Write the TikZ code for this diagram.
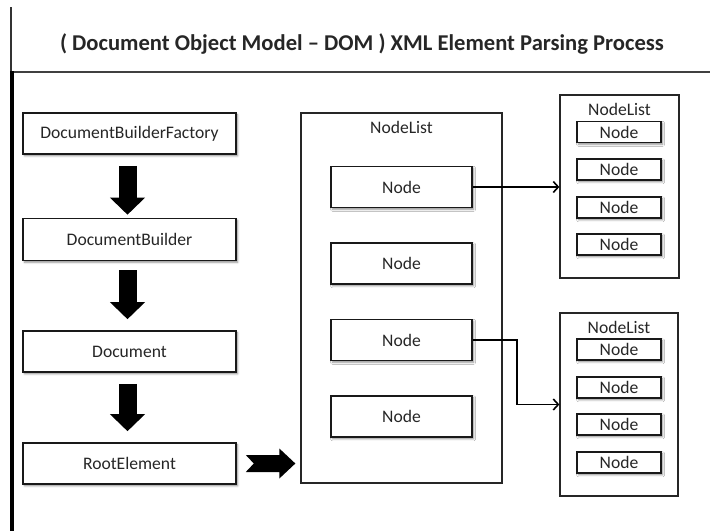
\documentclass[tikz,border=0pt]{standalone}
\usepackage{fontspec}
\setmainfont{Carlito}
\usetikzlibrary{arrows.meta,calc,shadows.blur}

\begin{document}
\begin{tikzpicture}[x=1pt,y=-1pt,
  font=\fontsize{17.6}{20}\selectfont,
  box/.style={draw=black!90, line width=1.6pt, fill=white, text=black!85, inner sep=0pt,
    blur shadow={shadow xshift=1.6pt, shadow yshift=-1.8pt, shadow blur radius=2pt, shadow opacity=45}},
  stagebox/.style={box, minimum width=213pt, minimum height=41pt},
  itembox/.style={box, minimum width=141pt, minimum height=41pt},
  smallbox/.style={box, minimum width=84pt, minimum height=21pt, line width=1.4pt},
  listbox/.style={draw=black!85, line width=1.3pt, fill=white, inner sep=0pt},
  listlabel/.style={anchor=base, text=black!85},
  flow/.style={line width=18pt, -{Triangle[length=17pt,width=34pt]}},
  link/.style={line width=1.6pt, -{Straight Barb[length=5pt,width=11pt]}}
]
\useasboundingbox (0,0) rectangle (710,531);

% frame lines
\draw[line width=1.2pt, black!80] (11,7) -- (11,72);
\draw[line width=2pt, black!75] (11,72) -- (710,72);
\draw[line width=3.2pt, black] (12,71) -- (12,531);

% title
\node[anchor=base, font=\fontsize{22.6}{26}\selectfont\bfseries, text=black!85] (title) at (362,50)
  {( Document Object Model – DOM ) XML Element Parsing Process};

% parser chain
\node[stagebox] (dbf)  at (129.5,133.5) {DocumentBuilderFactory};
\node[stagebox, minimum height=42pt] (db) at (129.5,239.5) {DocumentBuilder};
\node[stagebox] (doc)  at (129.5,351.5) {Document};
\node[stagebox] (root) at (129.5,463.5) {RootElement};

\draw[flow, shorten <=11pt, shorten >=3pt]  ([xshift=-2pt]dbf.south) -- ([xshift=-2pt]db.north);
\draw[flow, shorten <=9pt,  shorten >=11pt] ([xshift=-2pt]db.south)  -- ([xshift=-2pt]doc.north);
\draw[flow, shorten <=11pt, shorten >=11pt] ([xshift=-2pt]doc.south) -- ([xshift=-2pt]root.north);

% main node list
\node[listbox, minimum width=201pt, minimum height=370pt] (nl) at (401.5,298) {};
\node[listlabel] (nlt) at (401.5,133) {NodeList};
\node[itembox] (n1) at (401.5,187)   {Node};
\node[itembox] (n2) at (401.5,263.5) {Node};
\node[itembox] (n3) at (401.5,340)   {Node};
\node[itembox] (n4) at (401.5,416.5) {Node};

% notched arrow from the root element into the list
\fill let \p1=(root.east), \p2=(nl.west) in
  (\x1+9pt,\y1+8.5pt) -- (\x2-21pt,\y1+8.5pt) -- (\x2-21pt,\y1+15pt) -- (\x2-5pt,\y1)
  -- (\x2-21pt,\y1-15pt) -- (\x2-21pt,\y1-8.5pt) -- (\x1+9pt,\y1-8.5pt) -- (\x1+17pt,\y1) -- cycle;

% child list A
\node[listbox, minimum width=119pt, minimum height=183pt] (la) at (619.5,186.5) {};
\node[listlabel] (lat) at (619.5,115) {NodeList};
\node[smallbox] (a1) at (619,132)   {Node};
\node[smallbox] (a2) at (619,169.5) {Node};
\node[smallbox] (a3) at (619,207.5) {Node};
\node[smallbox] (a4) at (619,244.5) {Node};

% child list B
\node[listbox, minimum width=118pt, minimum height=183pt] (lb) at (619,404.5) {};
\node[listlabel] (lbt) at (619,333) {NodeList};
\node[smallbox] (b1) at (619,349.5) {Node};
\node[smallbox] (b2) at (619,387.5) {Node};
\node[smallbox] (b3) at (619,424.5) {Node};
\node[smallbox] (b4) at (619,462.5) {Node};

% links
\draw[link] (n1.east) -- (n1.east -| la.west);
\draw[link] (n3.east) -- ++(44,0) |- (lb.west);
\end{tikzpicture}
\end{document}
